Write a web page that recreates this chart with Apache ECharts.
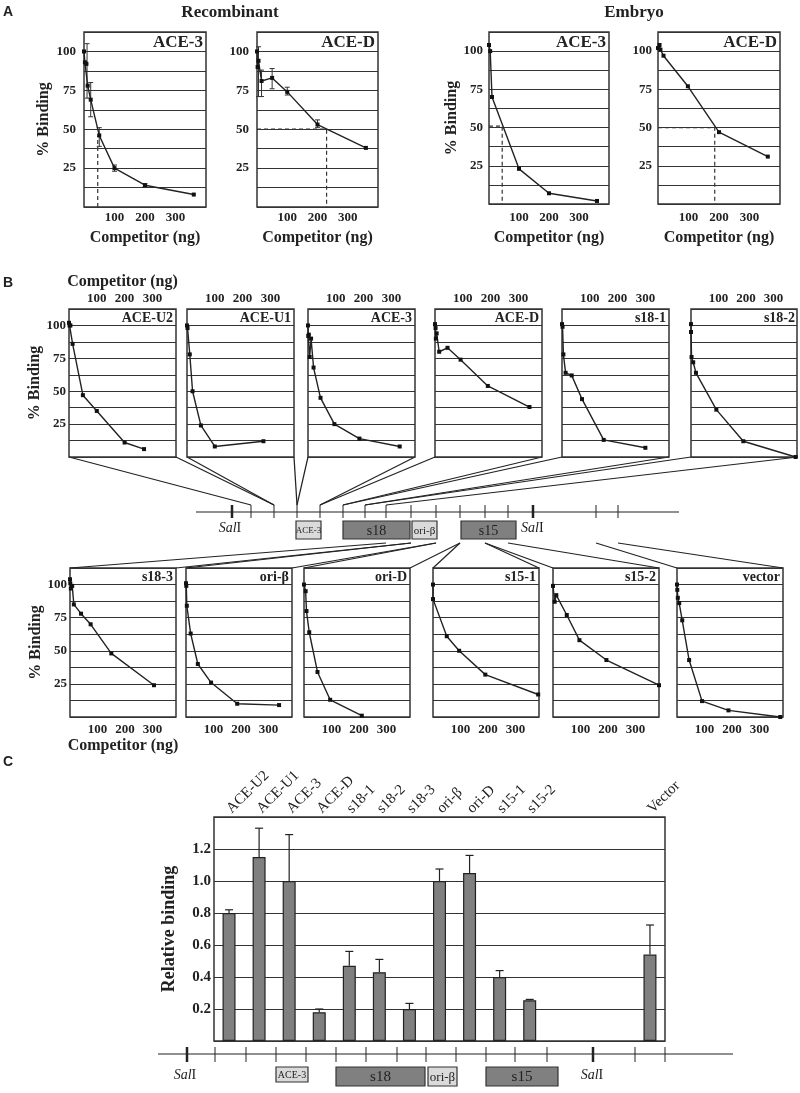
<!DOCTYPE html>
<html>
<head>
<meta charset="utf-8">
<script src="https://cdn.jsdelivr.net/npm/echarts@6/dist/echarts.min.js"></script>
<style>
html, body { margin: 0; padding: 0; background: #fff; }
#main { width: 800px; height: 1093px; }
</style>
</head>
<body>
<div id="main"></div>
<script>
// ---- data: [competitor ng, % binding] ----
// A, recombinant protein
var recombAce3 = [[0, 100], [3, 93], [8, 92], [12, 78], [22, 69], [50, 46], [100, 25], [200, 14], [360, 8]];
var recombAce3Err = [[10, 70, 105], [22, 58, 80], [50, 39, 51], [100, 23, 27], [200, 13, 15]];
var recombAce3Half = [[45, 0], [45, 46]];
var recombAceD = [[0, 100], [2, 90], [5, 94], [15, 81], [50, 83], [100, 74], [200, 53], [360, 38]];
var recombAceDErr = [[5, 71, 103], [15, 71, 88], [50, 76, 89], [100, 72, 77], [200, 51, 56]];
var recombAceDHalf = [[0, 50], [230, 50], [230, 0]];
// A, embryo extract
var embryoAce3 = [[0, 104], [4, 100], [10, 70], [100, 23], [200, 7], [360, 2]];
var embryoAce3Half = [[0, 51], [44, 51], [44, 0]];
var embryoAceD = [[0, 102], [5, 104], [8, 101], [18, 97], [98, 77], [200, 47], [360, 31]];
var embryoAceDHalf = [[0, 50], [186, 50], [186, 0]];

// B, fragments
var bTopNames = ['ACE-U2', 'ACE-U1', 'ACE-3', 'ACE-D', 's18-1', 's18-2'];
var bBotNames = ['s18-3', 'ori-β', 'ori-D', 's15-1', 's15-2', 'vector'];
var bAceU2 = [[0, 102], [2, 100], [5, 100], [13, 86], [50, 47], [100, 35], [200, 11], [270, 6]];
var bAceU1 = [[0, 100], [2, 98], [10, 78], [20, 50], [50, 24], [100, 8], [275, 12]];
var bAce3 = [[0, 100], [1, 92], [3, 93], [6, 76], [11, 90], [20, 68], [45, 45], [95, 25], [185, 14], [330, 8]];
var bAceD = [[0, 101], [2, 98], [3, 90], [6, 94], [15, 80], [45, 83], [92, 74], [190, 54], [340, 38]];
var bS181 = [[0, 101], [2, 99], [5, 78], [13, 64], [35, 62], [72, 44], [150, 13], [300, 7]];
var bS182 = [[0, 101], [0, 95], [2, 76], [8, 72], [18, 64], [92, 36], [190, 12], [380, 0]];
var bS183 = [[0, 104], [1, 101], [3, 97], [8, 99], [14, 85], [40, 78], [75, 70], [150, 48], [305, 24]];
var bOriB = [[0, 101], [1, 99], [3, 84], [17, 63], [43, 40], [91, 26], [186, 10], [338, 9]];
var bOriD = [[0, 100], [6, 95], [9, 80], [19, 64], [49, 34], [95, 13], [210, 1]];
var bS151 = [[0, 100], [0, 89], [50, 61], [95, 50], [190, 32], [382, 17]];
var bS152 = [[0, 99], [6, 87], [12, 92], [50, 77], [96, 58], [194, 43], [385, 24]];
var bVector = [[0, 100], [1, 96], [3, 90], [8, 86], [19, 73], [44, 43], [91, 12], [187, 5], [375, 0]];

// C, relative binding
var cCategories = ['ACE-U2', 'ACE-U1', 'ACE-3', 'ACE-D', 's18-1', 's18-2', 's18-3', 'ori-β', 'ori-D', 's15-1', 's15-2', '', '', '', 'Vector'];
var cValues = [0.80, 1.15, 1.00, 0.18, 0.47, 0.43, 0.20, 1.00, 1.05, 0.40, 0.255, null, null, null, 0.54];
var cErrTop = [0.82, 1.33, 1.29, 0.20, 0.56, 0.51, 0.235, 1.075, 1.16, 0.44, 0.26, null, null, null, 0.725];

// ---- layout ----
var SERIF = '"Liberation Serif", "Times New Roman", serif';
var SANS = '"Liberation Sans", Arial, sans-serif';
var INK = '#222';

var bTopLeft = [69, 187, 308, 435, 562, 691];
var bBotLeft = [70, 186, 304, 433, 553, 677];
var mapBTicks = [251, 274, 297, 320, 343, 365, 386, 411, 436, 460, 485, 508, 596, 618];
var mapBSal = [232, 533];
var topLinks = [[251, 274], [274, 297], [297, 320], [320, 343], [343, 365], [365, 386]];
var botLinks = [[386, 411], [411, 436], [436, 460], [460, 485], [485, 508], [596, 618]];
var mapCTicks = [215, 246, 276, 306, 336, 366, 397, 426, 456, 486, 515, 547, 635, 665];
var mapCSal = [187, 593];

function pctLabel(v) { return (v === 25 || v === 50 || v === 75 || v === 100) ? String(v) : ''; }
function ngLabel(v) { return (v === 100 || v === 200 || v === 300) ? String(v) : ''; }

var panels = [
    { rect: [84, 32, 122, 175], data: recombAce3, err: recombAce3Err, half: recombAce3Half, title: 'ACE-3', tSize: 17, xMax: 400, xPos: 'bottom', xName: true, xGap: 23, xMargin: 4, yLab: true, yName: true, yGap: 32, yMargin: 8 },
    { rect: [257, 32, 121, 175], data: recombAceD, err: recombAceDErr, half: recombAceDHalf, title: 'ACE-D', tSize: 17, xMax: 400, xPos: 'bottom', xName: true, xGap: 23, xMargin: 4, yLab: true, yMargin: 8 },
    { rect: [489, 32, 120, 172], data: embryoAce3, half: embryoAce3Half, title: 'ACE-3', tSize: 17, xMax: 400, xPos: 'bottom', xName: true, xGap: 26, xMargin: 7, yLab: true, yName: true, yGap: 27, yMargin: 6 },
    { rect: [658, 32, 122, 172], data: embryoAceD, half: embryoAceDHalf, title: 'ACE-D', tSize: 17, xMax: 400, xPos: 'bottom', xName: true, xGap: 26, xMargin: 7, yLab: true, yMargin: 6 }
];
var bTopData = [bAceU2, bAceU1, bAce3, bAceD, bS181, bS182];
var bBotData = [bS183, bOriB, bOriD, bS151, bS152, bVector];
bTopData.forEach(function(d, i) {
    panels.push({ rect: [bTopLeft[i], 309, 107, 148], data: d, title: bTopNames[i], tSize: 14, xMax: 385, xPos: 'top', xName: i === 0, xGap: 19, xMargin: 4, yLab: i === 0, yName: i === 0, yGap: 26, yMargin: 3 });
});
bBotData.forEach(function(d, i) {
    panels.push({ rect: [bBotLeft[i], 568, 106, 149], data: d, title: bBotNames[i], tSize: 14, xMax: 385, xPos: 'bottom', xName: i === 0, xGap: 21, xMargin: 6, yLab: i === 0, yName: i === 0, yGap: 26, yMargin: 3 });
});

var grids = [], xAxes = [], yAxes = [], series = [], graphics = [];

function errRender(params, api) {
    var p1 = api.coord([api.value(0), api.value(1)]);
    var p2 = api.coord([api.value(0), api.value(2)]);
    var c = 2.5, st = { stroke: '#333', lineWidth: 1 };
    return { type: 'group', children: [
        { type: 'line', shape: { x1: p1[0], y1: p1[1], x2: p2[0], y2: p2[1] }, style: st },
        { type: 'line', shape: { x1: p1[0] - c, y1: p1[1], x2: p1[0] + c, y2: p1[1] }, style: st },
        { type: 'line', shape: { x1: p2[0] - c, y1: p2[1], x2: p2[0] + c, y2: p2[1] }, style: st }
    ] };
}

panels.forEach(function(p, i) {
    var r = p.rect;
    grids.push({ left: r[0], top: r[1], width: r[2], height: r[3], show: true, borderColor: '#333', borderWidth: 1.5, backgroundColor: 'transparent' });
    xAxes.push({
        gridIndex: i, type: 'value', min: 0, max: p.xMax, interval: 100, position: p.xPos,
        axisLine: { show: false }, axisTick: { show: false }, splitLine: { show: false },
        axisLabel: { formatter: ngLabel, margin: p.xMargin, color: INK, fontFamily: SERIF, fontWeight: 'bold', fontSize: 13 },
        name: p.xName ? 'Competitor (ng)' : '', nameLocation: 'middle', nameGap: p.xGap,
        nameTextStyle: { color: INK, fontFamily: SERIF, fontWeight: 'bold', fontSize: 16 }
    });
    yAxes.push({
        gridIndex: i, type: 'value', min: 0, max: 112.5, interval: 12.5,
        axisLine: { show: false }, axisTick: { show: false },
        splitLine: { show: true, lineStyle: { color: '#333', width: 1.1 } },
        axisLabel: { show: !!p.yLab, formatter: pctLabel, margin: p.yMargin, color: INK, fontFamily: SERIF, fontWeight: 'bold', fontSize: 13 },
        name: p.yName ? '% Binding' : '', nameLocation: 'middle', nameGap: p.yGap, nameRotate: 90,
        nameTextStyle: { color: INK, fontFamily: SERIF, fontWeight: 'bold', fontSize: 16 }
    });
    series.push({
        type: 'line', xAxisIndex: i, yAxisIndex: i, data: p.data,
        symbol: 'rect', symbolSize: 4, itemStyle: { color: '#111' },
        lineStyle: { color: INK, width: 1.4 }, z: 4
    });
    if (p.err) {
        series.push({ type: 'custom', xAxisIndex: i, yAxisIndex: i, data: p.err, renderItem: errRender, encode: { x: 0, y: [1, 2] }, z: 3 });
    }
    if (p.half) {
        series.push({ type: 'line', xAxisIndex: i, yAxisIndex: i, data: p.half, symbol: 'none', lineStyle: { color: '#333', width: 1.2, type: [4, 3] }, z: 3 });
    }
    graphics.push({ type: 'text', x: r[0] + r[2] - 3, y: r[1] + 2, z: 10,
        style: { text: p.title, fill: INK, font: 'bold ' + p.tSize + 'px ' + SERIF, align: 'right', verticalAlign: 'top' } });
});

// C bar chart
var ci = panels.length;
grids.push({ left: 214, top: 817, width: 451, height: 224, show: true, borderColor: '#333', borderWidth: 1.5, backgroundColor: 'transparent' });
xAxes.push({
    gridIndex: ci, type: 'category', data: cCategories, position: 'top',
    axisLine: { show: false }, axisTick: { show: false }, splitLine: { show: false },
    axisLabel: { interval: 0, rotate: 45, margin: 6, color: INK, fontFamily: SERIF, fontSize: 15 }
});
yAxes.push({
    gridIndex: ci, type: 'value', min: 0, max: 1.4, interval: 0.2,
    axisLine: { show: false }, axisTick: { show: false },
    splitLine: { show: true, lineStyle: { color: '#333', width: 1.2 } },
    axisLabel: { margin: 3, color: INK, fontFamily: SERIF, fontWeight: 'bold', fontSize: 15,
        formatter: function(v) { return (v > 0.1 && v < 1.3) ? v.toFixed(1) : ''; } },
    name: 'Relative binding', nameLocation: 'middle', nameGap: 36, nameRotate: 90,
    nameTextStyle: { color: INK, fontFamily: SERIF, fontWeight: 'bold', fontSize: 18 }
});
series.push({
    type: 'bar', xAxisIndex: ci, yAxisIndex: ci, data: cValues, barWidth: 13,
    itemStyle: { color: '#808080', borderColor: '#222', borderWidth: 1.2 }, z: 3
});
series.push({
    type: 'custom', xAxisIndex: ci, yAxisIndex: ci, z: 2,
    data: cErrTop.map(function(t, k) { return [k, cValues[k], t]; }).filter(function(d) { return d[2] != null; }),
    encode: { x: 0, y: [1, 2] },
    renderItem: function(params, api) {
        var p1 = api.coord([api.value(0), api.value(1)]);
        var p2 = api.coord([api.value(0), api.value(2)]);
        var st = { stroke: '#222', lineWidth: 1.2 };
        return { type: 'group', children: [
            { type: 'line', shape: { x1: p1[0], y1: p1[1], x2: p2[0], y2: p2[1] }, style: st },
            { type: 'line', shape: { x1: p2[0] - 4, y1: p2[1], x2: p2[0] + 4, y2: p2[1] }, style: st }
        ] };
    }
});

// ---- map diagrams and connectors ----
function ln(x1, y1, x2, y2, w) {
    graphics.push({ type: 'line', silent: true, shape: { x1: x1, y1: y1, x2: x2, y2: y2 }, style: { stroke: INK, lineWidth: w || 1.2 } });
}
function txt(x, y, s, font, align) {
    graphics.push({ type: 'text', x: x, y: y, silent: true, style: { text: s, fill: INK, font: font, align: align || 'center', verticalAlign: 'middle' } });
}
function salI(x, y, align) {
    graphics.push({ type: 'text', x: x, y: y, silent: true, style: {
        text: '{i|Sal}{r|I}', align: align || 'center', verticalAlign: 'middle',
        rich: { i: { fontStyle: 'italic', fontSize: 14, fontFamily: SERIF, fill: INK }, r: { fontSize: 14, fontFamily: SERIF, fill: INK } } } });
}
function box(x, y, w, h, dark, label, font) {
    graphics.push({ type: 'rect', silent: true, shape: { x: x, y: y, width: w, height: h }, style: { fill: dark ? '#808080' : '#dadada', stroke: '#333', lineWidth: 1.2 } });
    txt(x + w / 2, y + h / 2 + 1, label, font);
}

// B map
ln(196, 512, 679, 512);
mapBTicks.forEach(function(x) { ln(x, 505, x, 518, 1); });
mapBSal.forEach(function(x) { ln(x, 505, x, 518, 2.5); });
salI(230, 528);
salI(521, 528, 'left');
box(296, 521, 25, 18, false, 'ACE-3', '9px ' + SERIF);
box(343, 521, 67, 18, true, 's18', '14px ' + SERIF);
box(412, 521, 25, 18, false, 'ori-β', '11px ' + SERIF);
box(461, 521, 55, 18, true, 's15', '14px ' + SERIF);
topLinks.forEach(function(l, i) {
    ln(bTopLeft[i], 457, l[0], 505);
    ln(bTopLeft[i] + 107, 457, l[1], 505);
});
botLinks.forEach(function(l, i) {
    ln(l[0], 543, bBotLeft[i], 568);
    ln(l[1], 543, bBotLeft[i] + 106, 568);
});

// C map
ln(158, 1054, 733, 1054);
mapCTicks.forEach(function(x) { ln(x, 1047, x, 1062, 1); });
mapCSal.forEach(function(x) { ln(x, 1047, x, 1062, 2.5); });
salI(185, 1075);
salI(592, 1075);
box(276, 1067, 32, 15, false, 'ACE-3', '10px ' + SERIF);
box(336, 1067, 89, 19, true, 's18', '15px ' + SERIF);
box(428, 1067, 29, 19, false, 'ori-β', '13px ' + SERIF);
box(486, 1067, 72, 19, true, 's15', '15px ' + SERIF);

// panel letters and headings
txt(3, 12, 'A', 'bold 14px ' + SANS, 'left');
txt(3, 283, 'B', 'bold 14px ' + SANS, 'left');
txt(3, 762, 'C', 'bold 14px ' + SANS, 'left');
txt(230, 13, 'Recombinant', 'bold 17px ' + SERIF);
txt(634, 13, 'Embryo', 'bold 17px ' + SERIF);

var myChart = echarts.init(document.getElementById('main'));
myChart.setOption({
    animation: false,
    backgroundColor: '#fff',
    grid: grids,
    xAxis: xAxes,
    yAxis: yAxes,
    series: series,
    graphic: graphics
});
</script>
</body>
</html>
